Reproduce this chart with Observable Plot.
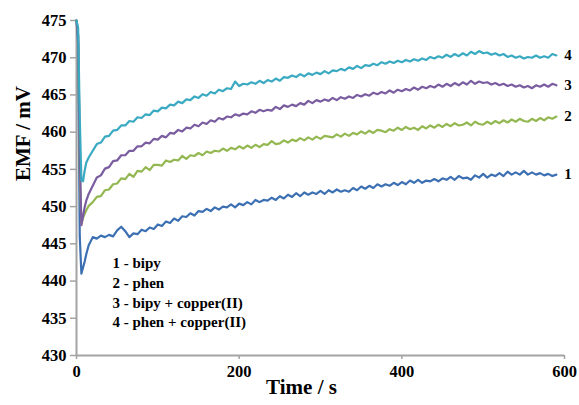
<!DOCTYPE html>
<html>
<head>
<meta charset="utf-8">
<script src="https://cdn.jsdelivr.net/npm/d3@7"></script>
<script src="https://cdn.jsdelivr.net/npm/@observablehq/plot@0.6"></script>
<style>
  html, body { margin: 0; padding: 0; background: #fff; }
  #chart svg { display: block; }
</style>
</head>
<body>
<div id="chart"></div>
<script>
// ---- data ----
const times = [0,2,4,6,8,10,12,15,20,25,30,35,40,45,50,55,60,65,70,75,80,85,90,95,100,105,110,115,120,125,130,135,140,145,150,155,160,165,170,175,180,185,190,195,200,205,210,215,220,225,230,235,240,245,250,255,260,265,270,275,280,285,290,295,300,305,310,315,320,325,330,335,340,345,350,355,360,365,370,375,380,385,390,395,400,405,410,415,420,425,430,435,440,445,450,455,460,465,470,475,480,485,490,495,500,505,510,515,520,525,530,535,540,545,550,555,560,565,570,575,580,585,590];

const bipy = [475,472,446,441.0,441.8,442.6,443.6,444.8,
445.9,445.7,446.1,445.9,446.2,446.0,446.8,447.3,446.7,445.9,446.4,446.3,446.9,446.7,447.2,447.0,447.6,447.4,448.0,447.8,448.4,448.1,
448.7,448.6,449.1,448.8,449.4,449.3,449.7,449.4,449.9,449.6,450.0,449.9,450.3,449.9,450.4,450.2,450.6,450.3,450.9,450.6,
450.9,450.8,451.2,450.9,451.4,451.1,451.6,451.3,451.8,451.4,451.9,451.6,451.9,451.7,452.1,451.7,452.2,451.9,452.3,452.0,
452.2,452.0,452.5,452.2,452.7,452.4,452.8,452.5,453.0,452.7,453.0,452.8,453.2,452.9,453.3,453.0,453.5,453.2,453.6,453.2,
453.5,453.4,453.7,453.4,453.8,453.6,454.0,453.6,454.1,453.8,453.9,453.6,454.2,453.9,454.4,453.9,454.3,454.1,454.5,454.1,
454.7,454.3,454.6,454.3,454.8,454.3,454.6,454.3,454.5,454.2,454.4,454.1,454.3];

const phen = [475,473,455,447.7,448.5,449.0,449.5,450.1,
450.6,451.3,451.4,452.2,452.3,453.0,453.1,453.8,453.7,454.4,454.0,454.8,454.7,455.3,454.9,455.6,455.6,455.5,456.2,456.0,456.3,456.2,
456.8,456.4,456.9,456.8,457.2,456.9,457.4,457.2,457.5,457.4,457.8,457.5,457.9,457.7,458.1,457.8,458.2,457.9,458.3,458.0,
458.4,458.3,458.8,458.4,458.5,458.9,458.6,459.0,458.8,459.2,458.9,459.3,459.0,459.4,459.1,459.5,459.4,459.3,459.7,459.4,
459.8,459.5,459.9,459.7,460.1,459.8,460.2,459.9,460.3,460.2,460.0,460.4,460.2,460.6,460.3,460.7,460.4,460.6,460.3,460.8,
460.5,460.9,460.6,461.0,460.7,461.1,460.8,461.2,460.9,461.0,461.3,460.9,461.4,461.1,461.0,461.4,461.1,461.5,461.2,461.6,
461.3,461.7,461.4,461.8,461.5,461.4,461.8,461.5,461.9,461.6,462.0,461.8,462.1];

const bipyCu = [475,473,457,447.5,448.7,449.9,450.8,451.7,
452.8,453.9,454.2,455.1,455.3,456.1,456.2,456.9,456.9,457.5,457.5,458.1,458.1,458.6,458.5,459.1,459.0,459.5,459.3,459.9,459.8,460.3,
460.1,460.6,460.5,461.0,460.8,461.3,461.1,461.6,461.4,461.9,461.7,462.1,462.0,462.4,462.2,462.5,462.4,462.8,462.6,463.0,
462.8,463.0,462.9,463.4,463.1,463.6,463.4,463.7,463.5,463.9,463.7,464.2,463.9,464.3,464.1,464.4,464.2,464.6,464.3,464.7,
464.5,464.8,464.6,465.0,464.8,465.1,464.9,465.3,465.1,465.4,465.2,465.6,465.3,465.7,465.5,465.8,465.6,466.0,465.7,466.1,
465.9,466.2,466.0,466.4,466.1,466.5,466.2,466.6,466.3,466.7,466.4,466.9,466.5,466.8,466.6,466.7,466.4,466.6,466.3,466.5,
466.2,466.4,466.1,466.3,466.0,466.2,465.9,466.3,466.1,466.4,466.1,466.5,466.3];

const phenCu = [475,474,462,453.5,453.4,454.8,455.9,456.6,
457.5,458.4,458.6,459.4,459.5,460.2,460.3,460.9,460.9,461.5,461.4,462.0,461.9,462.4,462.3,462.9,462.8,463.3,463.2,463.7,463.6,464.1,
463.9,464.4,464.3,464.8,464.6,465.1,464.9,465.4,465.2,465.7,465.5,465.9,465.8,466.8,466.2,466.5,466.4,466.7,466.5,466.9,
466.6,467.0,466.8,467.2,466.9,467.4,467.3,467.6,467.4,467.8,467.5,467.9,467.7,468.0,467.8,468.2,467.9,468.3,468.2,468.5,
468.3,468.7,468.5,468.9,468.6,469.0,468.9,469.2,469.0,469.4,469.2,469.5,469.3,469.6,469.4,469.7,469.5,469.8,469.6,469.9,
469.7,470.1,469.9,470.2,470.0,470.4,470.1,470.5,470.2,470.6,470.3,470.8,470.5,470.9,470.6,470.7,470.4,470.6,470.3,470.5,
470.1,470.3,470.0,470.2,469.9,470.1,470.0,470.3,470.0,470.2,470.0,470.5,470.3];

const seriesNames = ["1 - bipy", "2 - phen", "3 - bipy + copper(II)", "4 - phen + copper(II)"];
const seriesTags = ["1", "2", "3", "4"];
const seriesValues = [bipy, phen, bipyCu, phenCu];
const seriesColors = ["#3d70b3", "#93b851", "#7a5ca0", "#3aa9c2"];
const xTicks = [0, 200, 400, 600];
const yTicks = [430, 435, 440, 445, 450, 455, 460, 465, 470, 475];
const xTitle = "Time / s";
const yTitle = "EMF / mV";

seriesValues.forEach((vals, k) => {
  if (vals.length !== times.length) throw new Error("length mismatch in series " + k + ": " + vals.length + " vs " + times.length);
});

// ---- build table ----
const rows = seriesValues.flatMap((vals, k) =>
  vals.map((v, i) => ({ t: times[i], v, s: seriesNames[k] })));
const ends = seriesValues.map((vals, k) => ({
  t: times[times.length - 1], v: vals[vals.length - 1], tag: seriesTags[k]
}));

const serif = "'Liberation Serif', 'Times New Roman', serif";
const axisGray = "#a3a3a3";

const chart = Plot.plot({
  width: 579,
  height: 405,
  marginLeft: 76,
  marginRight: 15,
  marginTop: 20,
  marginBottom: 50,
  style: { fontFamily: serif, color: "#000", background: "#fff" },
  x: { domain: [0, 600] },
  y: { domain: [430, 475] },
  color: { domain: seriesNames, range: seriesColors },
  marks: [
    Plot.axisY({ ticks: yTicks, tickSize: 6, tickPadding: 4, stroke: axisGray, strokeWidth: 1.5,
      fill: "#000", fontSize: 16.5, fontWeight: "bold", fontFamily: serif, label: null, tickFormat: d3.format("d") }),
    Plot.axisX({ ticks: xTicks, tickSize: 4, tickPadding: 6, stroke: axisGray, strokeWidth: 1.5,
      fill: "#000", fontSize: 16.5, fontWeight: "bold", fontFamily: serif, label: null, tickFormat: d3.format("d") }),
    Plot.ruleX([0], { stroke: axisGray, strokeWidth: 2 }),
    Plot.ruleY([430], { stroke: axisGray, strokeWidth: 2 }),
    Plot.line(rows, { x: "t", y: "v", z: "s", stroke: "s", strokeWidth: 2.2, curve: "linear" }),
    Plot.text(ends, { x: "t", y: "v", text: "tag", dx: 8, textAnchor: "start",
      fontSize: 15, fontWeight: "bold", fontFamily: serif, fill: "#000" }),
    Plot.text([seriesNames.join("\n")], { frameAnchor: "top-left", dx: 36, dy: 234, lineAnchor: "top",
      lineHeight: 1.31, textAnchor: "start", fontSize: 15, fontWeight: "bold", fontFamily: serif, fill: "#000" }),
    Plot.text([xTitle], { frameAnchor: "bottom", dx: -19, dy: 38, fontSize: 21, fontWeight: "bold",
      fontFamily: serif, fill: "#000" }),
    Plot.text([yTitle], { frameAnchor: "left", dx: -53, dy: -7, rotate: -90, fontSize: 21, fontWeight: "bold",
      fontFamily: serif, fill: "#000" })
  ]
});
document.getElementById("chart").appendChild(chart);
</script>
</body>
</html>
